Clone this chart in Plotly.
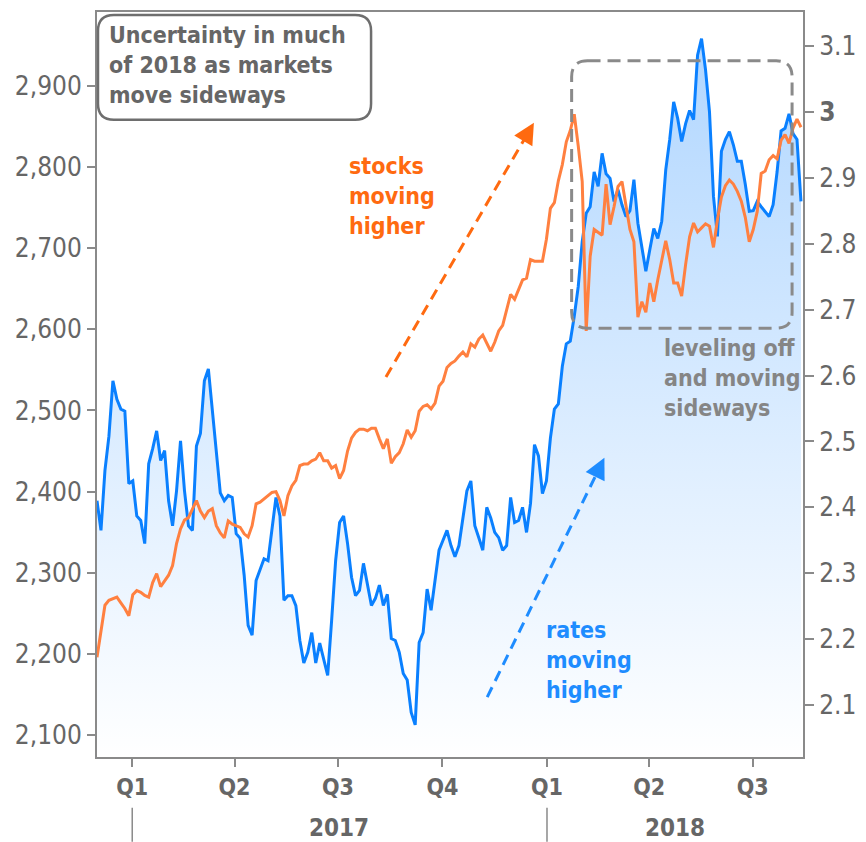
import pandas as pd
import plotly.graph_objects as go

# ---------------- data ----------------
start_date = "2016-12-01"
step = "84h"  # sampling step of the read-off series (3.5 days)

rates_10y = [
    2.410, 2.365, 2.456, 2.508, 2.592, 2.564, 2.549, 2.546, 2.436, 2.440,
    2.387, 2.380, 2.345, 2.466, 2.489, 2.516, 2.471, 2.486, 2.410, 2.372,
    2.425, 2.501, 2.425, 2.372, 2.365, 2.493, 2.512, 2.592, 2.610, 2.549,
    2.489, 2.422, 2.410, 2.418, 2.415, 2.360, 2.353, 2.297, 2.221, 2.206,
    2.289, 2.304, 2.322, 2.319, 2.365, 2.415, 2.387, 2.259, 2.266, 2.266,
    2.251, 2.198, 2.164, 2.180, 2.210, 2.164, 2.194, 2.168, 2.145, 2.229,
    2.319, 2.377, 2.387, 2.345, 2.294, 2.266, 2.274, 2.315, 2.282, 2.251,
    2.262, 2.282, 2.251, 2.268, 2.201, 2.198, 2.180, 2.148, 2.138, 2.089,
    2.070, 2.195, 2.210, 2.276, 2.244, 2.286, 2.335, 2.350, 2.365, 2.342,
    2.325, 2.342, 2.387, 2.425, 2.440, 2.372, 2.354, 2.335, 2.400, 2.384,
    2.362, 2.354, 2.335, 2.342, 2.415, 2.377, 2.380, 2.400, 2.362, 2.406,
    2.495, 2.478, 2.421, 2.440, 2.505, 2.549, 2.557, 2.614, 2.648, 2.652,
    2.690, 2.735, 2.803, 2.846, 2.856, 2.909, 2.887, 2.937, 2.906, 2.899,
    2.864, 2.882, 2.859, 2.841, 2.850, 2.897, 2.831, 2.796, 2.758, 2.791,
    2.823, 2.808, 2.834, 2.912, 2.958, 3.015, 2.990, 2.955, 2.982, 3.002,
    2.988, 3.086, 3.111, 3.064, 3.000, 2.872, 2.811, 2.940, 2.958, 2.970,
    2.950, 2.925, 2.925, 2.890, 2.849, 2.850, 2.864, 2.856, 2.849, 2.841,
    2.859, 2.909, 2.971, 2.975, 2.997, 2.967, 2.958, 2.864,
]

stocks_index = [
    2196, 2229, 2260, 2266, 2268, 2270, 2263, 2256, 2247, 2273,
    2278, 2276, 2272, 2270, 2288, 2299, 2283, 2290, 2297, 2309,
    2336, 2354, 2365, 2368, 2379, 2389, 2376, 2368, 2376, 2379,
    2358, 2349, 2343, 2364, 2360, 2358, 2356, 2348, 2344, 2358,
    2385, 2387, 2391, 2395, 2399, 2400, 2389, 2370, 2395, 2407,
    2414, 2432, 2434, 2434, 2438, 2440, 2448, 2438, 2438, 2429,
    2432, 2416, 2426, 2450, 2466, 2473, 2477, 2477, 2475, 2478,
    2478, 2465, 2453, 2465, 2435, 2443, 2448, 2459, 2476, 2467,
    2475, 2499, 2505, 2507, 2502, 2509, 2530, 2536, 2553, 2558,
    2561, 2567, 2572, 2566, 2582, 2578, 2588, 2593, 2583, 2573,
    2584, 2598, 2605, 2625, 2643, 2637, 2649, 2661, 2663, 2686,
    2684, 2684, 2684, 2711, 2749, 2756, 2783, 2803, 2831, 2845,
    2865, 2826, 2782, 2598, 2690, 2723, 2720, 2716, 2779, 2729,
    2751, 2776, 2782, 2751, 2723, 2708, 2615, 2634, 2621, 2657,
    2634, 2661, 2685, 2709, 2686, 2657, 2657, 2641, 2680, 2714,
    2731, 2720, 2725, 2730, 2727, 2701, 2735, 2763, 2777, 2784,
    2779, 2770, 2758, 2738, 2708, 2723, 2745, 2792, 2795, 2809,
    2814, 2810, 2833, 2840, 2829, 2848, 2859, 2849,
]

quarter_ticks = ["2017-01-01", "2017-04-01", "2017-07-01", "2017-10-01",
                 "2018-01-01", "2018-04-01", "2018-07-01"]
quarter_labels = ["Q1", "Q2", "Q3", "Q4", "Q1", "Q2", "Q3"]
year_labels = ["2017", "2018"]
year_starts = ["2017-01-01", "2018-01-01"]

stock_ticks = [2100, 2200, 2300, 2400, 2500, 2600, 2700, 2800, 2900]
rate_ticks = [2.1, 2.2, 2.3, 2.4, 2.5, 2.6, 2.7, 2.8, 2.9, 3.0, 3.1]
rate_tick_labels = ["2.1", "2.2", "2.3", "2.4", "2.5", "2.6", "2.7", "2.8",
                    "2.9", "<b>3</b>", "3.1"]

# ---------------- styling ----------------
W, H = 866, 842
ML, MR, MT, MB = 97, 58, 10, 85
PW, PH = W - ML - MR, H - MT - MB
FONT = "DejaVu Sans Condensed, DejaVu Sans, sans-serif"
GRAY = "#666666"
FRAME = "#8a8a8a"
BLUE = "#0a80ff"
BLUE_TXT = "#1e8cff"
ORANGE = "#ff8040"
ORANGE_TXT = "#ff6a10"

dates = pd.date_range(start_date, periods=len(rates_10y), freq=step)
x_end = pd.Timestamp("2018-08-14 07:00")


def px(xp):
    return (xp - ML) / PW


def py(yp):
    return (MT + PH - yp) / PH


def rounded_path(x0, y0, x1, y1, r):
    rx, ry = r / PW, r / PH
    X0, X1, Y0, Y1 = px(x0), px(x1), py(y0), py(y1)  # Y0 top, Y1 bottom
    return (f"M {X0+rx},{Y0} L {X1-rx},{Y0} Q {X1},{Y0} {X1},{Y0-ry} "
            f"L {X1},{Y1+ry} Q {X1},{Y1} {X1-rx},{Y1} "
            f"L {X0+rx},{Y1} Q {X0},{Y1} {X0},{Y1+ry} "
            f"L {X0},{Y0-ry} Q {X0},{Y0} {X0+rx},{Y0} Z")


fig = go.Figure()

fig.add_trace(go.Scatter(
    x=dates, y=rates_10y, yaxis="y", mode="lines",
    line=dict(color=BLUE, width=3),
    fill="tozeroy",
    fillgradient=dict(type="vertical", start=2.02, stop=3.15,
                      colorscale=[[0, "rgba(10,128,255,0.0)"],
                                  [1, "rgba(10,128,255,0.33)"]]),
    hoverinfo="skip", showlegend=False,
))

fig.add_trace(go.Scatter(
    x=dates, y=stocks_index, yaxis="y2", mode="lines",
    line=dict(color=ORANGE, width=3),
    hoverinfo="skip", showlegend=False,
))

shapes = []
annotations = []

# rounded annotation box (top-left)
shapes.append(dict(type="path", xref="paper", yref="paper",
                   path=rounded_path(98, 13, 373, 118, 16),
                   line=dict(color="#6e6e6e", width=2.5)))
annotations.append(dict(xref="paper", yref="paper", x=px(107), y=py(63),
                        xanchor="left", yanchor="middle", align="left",
                        showarrow=False,
                        text="Uncertainty in much<br>of 2018 as markets<br>move sideways",
                        font=dict(family=FONT, size=23, color=GRAY, weight="bold")))

# dashed rounded rectangle (sideways region)
shapes.append(dict(type="path", xref="paper", yref="paper",
                   path=rounded_path(575, 59, 797, 327, 16),
                   line=dict(color="#8a8a8a", width=3, dash="13px,7px")))
annotations.append(dict(xref="paper", yref="paper", x=px(666), y=py(377),
                        xanchor="left", yanchor="middle", align="left",
                        showarrow=False,
                        text="leveling off<br>and moving<br>sideways",
                        font=dict(family=FONT, size=23, color="#858585", weight="bold")))


def dashed_arrow(tail, head, color):
    (tx, ty), (hx, hy) = tail, head
    dx, dy = hx - tx, hy - ty
    L = (dx * dx + dy * dy) ** 0.5
    ux, uy = dx / L, dy / L
    shapes.append(dict(type="line", xref="paper", yref="paper",
                       x0=px(tx), y0=py(ty), x1=px(hx - ux * 10), y1=py(hy - uy * 10),
                       line=dict(color=color, width=3, dash="11px,7px")))
    annotations.append(dict(xref="paper", yref="paper", x=px(hx), y=py(hy),
                            ax=-ux * 16, ay=-uy * 16, axref="pixel", ayref="pixel",
                            text="", showarrow=True, arrowhead=2, arrowsize=1.4,
                            arrowwidth=3, arrowcolor=color, standoff=0))


dashed_arrow((388, 376), (537, 121), ORANGE_TXT)
annotations.append(dict(xref="paper", yref="paper", x=px(349), y=py(194),
                        xanchor="left", yanchor="middle", align="left",
                        showarrow=False, text="stocks<br>moving<br>higher",
                        font=dict(family=FONT, size=23, color=ORANGE_TXT, weight="bold")))

dashed_arrow((490, 697), (608, 457), BLUE_TXT)
annotations.append(dict(xref="paper", yref="paper", x=px(547), y=py(660),
                        xanchor="left", yanchor="middle", align="left",
                        showarrow=False, text="rates<br>moving<br>higher",
                        font=dict(family=FONT, size=23, color=BLUE_TXT, weight="bold")))

# year row
year_centers = [pd.Timestamp("2017-07-02"),
                pd.Timestamp("2018-01-01") + (x_end - pd.Timestamp("2018-01-01")) / 2]
for lbl, xc in zip(year_labels, year_centers):
    annotations.append(dict(xref="x", yref="paper", x=xc, y=py(828),
                            xanchor="center", yanchor="middle", showarrow=False,
                            text=lbl,
                            font=dict(family=FONT, size=24, color=GRAY, weight="bold")))
for xs in year_starts:
    shapes.append(dict(type="line", xref="x", yref="paper", x0=xs, x1=xs,
                       y0=py(808), y1=py(842), line=dict(color=FRAME, width=1.5)))

fig.update_layout(
    width=W, height=H,
    margin=dict(l=ML, r=MR, t=MT, b=MB, pad=0),
    plot_bgcolor="white", paper_bgcolor="white",
    font=dict(family=FONT, color=GRAY),
    showlegend=False,
    shapes=shapes, annotations=annotations,
    xaxis=dict(type="date", range=[pd.Timestamp(start_date), x_end],
               tickvals=quarter_ticks, ticktext=quarter_labels,
               ticks="outside", ticklen=8, tickwidth=2, tickcolor=FRAME,
               tickfont=dict(family=FONT, size=23, color=GRAY, weight="bold"),
               showline=True, linecolor=FRAME, linewidth=2, mirror=True,
               showgrid=False, zeroline=False),
    yaxis=dict(side="right", range=[2.0213, 3.1514],
               tickvals=rate_ticks, ticktext=rate_tick_labels,
               ticks="outside", ticklen=9, tickwidth=2, tickcolor=FRAME,
               tickfont=dict(family=FONT, size=26, color=GRAY),
               showline=True, linecolor=FRAME, linewidth=2,
               showgrid=False, zeroline=False),
    yaxis2=dict(side="left", overlaying="y", range=[2073, 2991],
                tickvals=stock_ticks, tickformat=",",
                ticks="outside", ticklen=8, tickwidth=2, tickcolor=FRAME,
                tickfont=dict(family=FONT, size=26, color=GRAY),
                showline=True, linecolor=FRAME, linewidth=2,
                showgrid=False, zeroline=False),
)

fig.write_html("out.html", config={"displayModeBar": False},
               post_script="document.body.style.margin='0';document.body.style.overflow='hidden';")
